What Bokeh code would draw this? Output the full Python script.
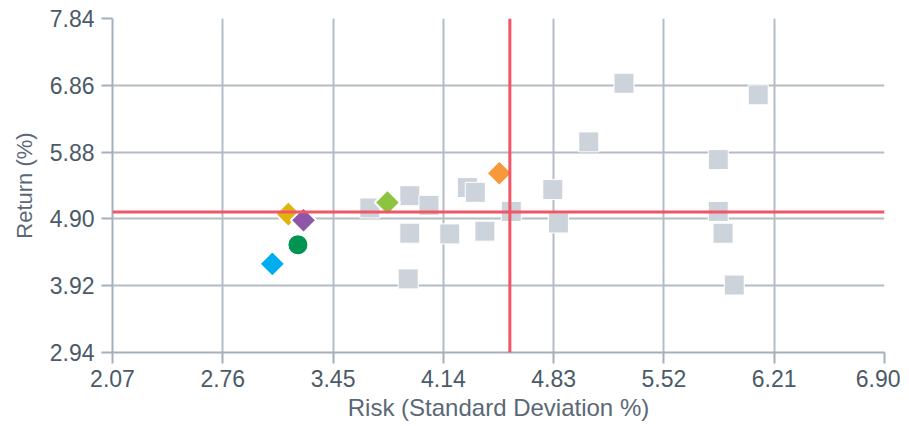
import math
from bokeh.plotting import figure
from bokeh.models import FixedTicker, Span, PrintfTickFormatter, ColumnDataSource
from bokeh.embed import file_html
from bokeh.resources import INLINE

# Axis ticks
x_ticks = [2.07, 2.76, 3.45, 4.14, 4.83, 5.52, 6.21, 6.90]
y_ticks = [2.94, 3.92, 4.90, 5.88, 6.86, 7.84]

# Peer universe (grey squares)
peer_risk = [3.68, 3.93, 4.05, 3.93, 4.18, 3.92, 4.29, 4.34, 4.40, 4.565,
             4.825, 4.86, 5.05, 5.27, 5.86, 5.86, 5.89, 5.96, 6.11]
peer_return = [5.06, 5.24, 5.10, 4.69, 4.68, 4.02, 5.36, 5.29, 4.72, 5.01,
               5.33, 4.84, 6.03, 6.89, 5.77, 5.01, 4.69, 3.93, 6.72]

# Highlighted funds (diamonds)
fund_risk = [3.07, 3.17, 3.265, 3.79, 4.49]
fund_return = [4.24, 4.97, 4.88, 5.14, 5.57]
fund_colors = ["#00aeef", "#e0b40c", "#8e56a8", "#8cc43f", "#f7993a"]

# Highlighted fund (circle)
circle_risk = [3.23]
circle_return = [4.52]
circle_colors = ["#009352"]

# Average lines
avg_risk = 4.556
avg_return = 5.00

TEXT = "#4b5a68"
GRID = "#b3bcc6"

p = figure(width=900, height=424, output_backend="svg", toolbar_location=None,
           x_range=(x_ticks[0], x_ticks[-1]), y_range=(y_ticks[0], y_ticks[-1]),
           min_border_left=112, min_border_right=16, min_border_top=18,
           min_border_bottom=72)
p.outline_line_color = None
p.background_fill_color = "white"
p.border_fill_color = "white"

for ax in (p.xaxis[0], p.yaxis[0]):
    ax.axis_line_color = "#a3afbb"
    ax.axis_line_width = 2
    ax.major_tick_line_color = "#a3afbb"
    ax.major_tick_line_width = 2
    ax.major_tick_out = 11
    ax.major_tick_in = 0
    ax.minor_tick_line_color = None
    ax.major_label_text_font = "Liberation Sans"
    ax.major_label_text_font_size = "23px"
    ax.major_label_text_color = TEXT
    ax.axis_label_text_font = "Liberation Sans"
    ax.axis_label_text_font_style = "normal"
    ax.axis_label_text_color = "#5a6876"
    ax.formatter = PrintfTickFormatter(format="%.2f")

p.xaxis[0].axis_label_text_font_size = "24px"
p.yaxis[0].axis_label_text_font_size = "22px"
p.xaxis[0].ticker = FixedTicker(ticks=x_ticks)
p.yaxis[0].ticker = FixedTicker(ticks=y_ticks)
p.xaxis[0].axis_label = "Risk (Standard Deviation %)"
p.yaxis[0].axis_label = "Return (%)"
p.xaxis[0].major_label_standoff = 6
p.yaxis[0].major_label_standoff = 7
p.xaxis[0].axis_label_standoff = 4
p.yaxis[0].axis_label_standoff = 10

p.xgrid[0].ticker = FixedTicker(ticks=x_ticks)
p.ygrid[0].ticker = FixedTicker(ticks=y_ticks)
for g in (p.xgrid[0], p.ygrid[0]):
    g.grid_line_color = GRID
    g.grid_line_width = 2

p.scatter(peer_risk, peer_return, marker="square", size=20,
          fill_color="#cdd3db", line_color="white", line_width=1)

src = ColumnDataSource(dict(x=fund_risk, y=fund_return, c=fund_colors))
p.scatter("x", "y", source=src, marker="square", size=18, angle=math.pi / 4,
          fill_color="c", line_color="white", line_width=2)

src2 = ColumnDataSource(dict(x=circle_risk, y=circle_return, c=circle_colors))
p.scatter("x", "y", source=src2, marker="circle", size=20,
          fill_color="c", line_color="white", line_width=1)

p.add_layout(Span(location=avg_risk, dimension="height", line_color="#f25565",
                  line_width=3))
p.add_layout(Span(location=avg_return, dimension="width", line_color="#f25565",
                  line_width=3))

open("out.html", "w").write(file_html(p, INLINE))
